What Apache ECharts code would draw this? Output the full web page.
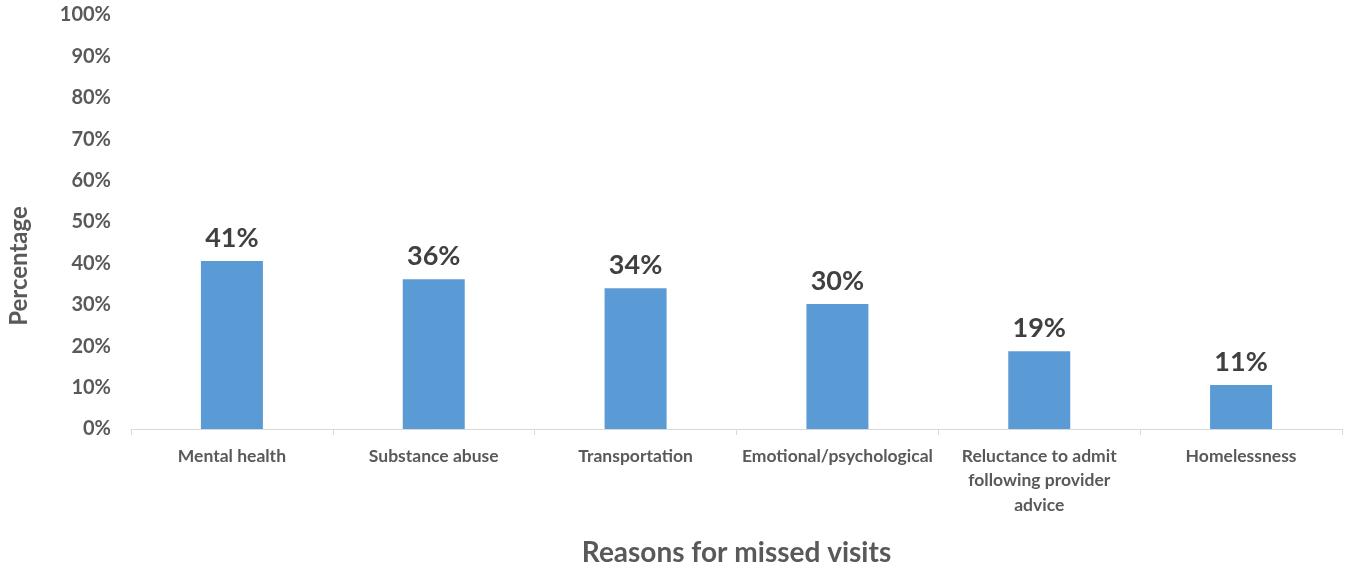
<!DOCTYPE html>
<html><head><meta charset="utf-8">
<script src="https://cdn.jsdelivr.net/npm/echarts@6/dist/echarts.min.js"></script>
<style>html,body{margin:0;padding:0;background:#fff}#c{width:1347px;height:566px}</style>
</head><body><div id="c"></div>
<script>
const categories = ["Mental health","Substance abuse","Transportation","Emotional/psychological","Reluctance to admit\nfollowing provider\nadvice","Homelessness"];
const values = [40.6, 36.2, 34.0, 30.2, 18.8, 10.6];
const yTicks = [0,10,20,30,40,50,60,70,80,90,100];
const xTitle = "Reasons for missed visits";
const yTitle = "Percentage";
const F = "Lato, 'Open Sans', sans-serif";
const chart = echarts.init(document.getElementById('c'));
chart.setOption({
  animation:false,
  grid:{left:131,right:5,top:15,bottom:137,containLabel:false,outerBoundsMode:'none'},
  xAxis:{type:'category',data:categories,
    name:xTitle,nameLocation:'middle',nameGap:110,
    nameTextStyle:{fontFamily:F,fontWeight:'bold',fontSize:28,color:'#595959'},
    axisLine:{lineStyle:{color:'#d9d9d9',width:1}},
    axisTick:{show:true,length:6,lineStyle:{color:'#d9d9d9'}},
    axisLabel:{fontFamily:F,fontWeight:'bold',fontSize:17.5,color:'#595959',margin:15,lineHeight:24.5,interval:0}},
  yAxis:{type:'value',min:0,max:100,interval:10,
    name:yTitle,nameLocation:'middle',nameGap:100,nameRotate:90,
    nameTextStyle:{fontFamily:F,fontWeight:'bold',fontSize:24,color:'#595959',padding:[0,88,0,0]},
    axisLine:{show:false},axisTick:{show:false},splitLine:{show:false},
    axisLabel:{fontFamily:F,fontWeight:'bold',fontSize:20,color:'#595959',margin:20,
      formatter:v=>yTicks.includes(v)?v+'%':''}},
  series:[{type:'bar',data:values,barWidth:62,
    itemStyle:{color:'#5b9bd5'},
    label:{show:true,position:'top',distance:9,fontFamily:F,fontWeight:'bold',fontSize:27,color:'#404040',
      formatter:p=>Math.round(p.value)+'%'}}]
});
</script></body></html>
